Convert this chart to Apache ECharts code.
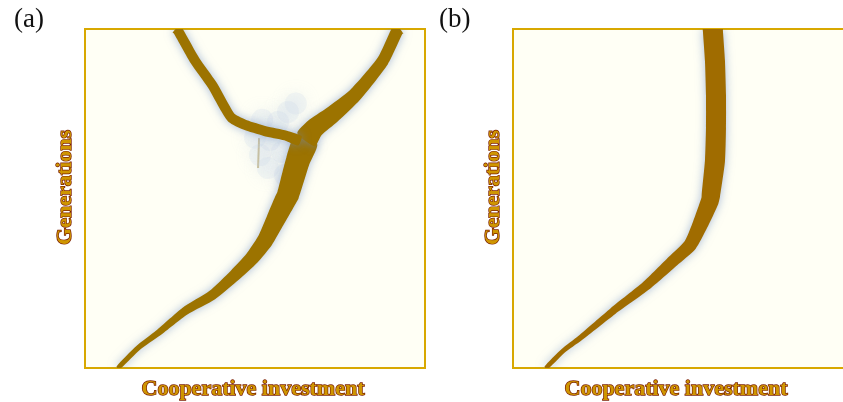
<!DOCTYPE html>
<html><head><meta charset="utf-8">
<script src="https://cdn.jsdelivr.net/npm/echarts@6/dist/echarts.min.js"></script>
<style>html,body{margin:0;padding:0;background:#fff}#c{width:843px;height:402px}</style>
</head><body><div id="c"></div>
<script>
// ---------- text ----------
const panelLabels = ['(a)', '(b)'];
const xAxisName = 'Cooperative investment';
const yAxisName = 'Generations';

// ---------- panel (a): branching ----------
// x = cooperative investment (0..1), y = generations (0..100, arbitrary units)
const stemA_x = [0.097, 0.156, 0.215, 0.294, 0.374, 0.441, 0.491, 0.529, 0.559, 0.588, 0.597, 0.626, 0.650];
const stemA_y = [0.0,   5.9,   10.3,  16.8,  21.5,  27.4,  32.4,  37.5,  43.4,  49.3,  51.0,  61.1,  67.3];
const rightA_x = [0.650, 0.676, 0.726, 0.794, 0.876, 0.918, 0.926];
const rightA_y = [67.3,  70.8,  74.6,  80.5,  90.6,  99.4,  100.0];
const leftA_x = [0.632, 0.590, 0.529, 0.471, 0.432, 0.412, 0.374, 0.324, 0.274, 0.268];
const leftA_y = [67.0,  68.6,  69.9,  71.7,  73.7,  76.7,  83.5,  90.6,  99.4,  100.0];
const traceA_x = [0.512, 0.509];
const traceA_y = [67.8,  59.0];
const cloudA_x = [0.521, 0.568, 0.597, 0.544, 0.579, 0.515, 0.588, 0.538, 0.500, 0.620];
const cloudA_y = [73.2,  72.6,  75.5,  67.3,  63.7,  62.8,  56.9,  59.0,  68.0,  78.0];

// ---------- panel (b): no branching ----------
const stemB_x = [0.097, 0.147, 0.197, 0.294, 0.391, 0.471, 0.521, 0.550, 0.579, 0.582, 0.594, 0.597, 0.597, 0.594, 0.588, 0.588];
const stemB_y = [0.0,   5.0,   8.8,   16.8,  24.2,  31.6,  36.3,  42.2,  49.3,  51.0,  61.1,  70.8,  80.5,  90.6,  99.4,  100.0];

const zip = (xs, ys) => xs.map((x, i) => [x, ys[i]]);

function ribbon(name, gi, xs, ys, widthFn, color) {
  const pts = zip(xs, ys);
  return {
    type: 'custom', name, xAxisIndex: gi, yAxisIndex: gi, clip: true, z: 3,
    data: pts,
    renderItem(params, api) {
      if (params.dataIndex !== 0) return null;
      const px = pts.map(p => api.coord(p));
      const left = [], right = [];
      for (let k = 0; k < px.length; k++) {
        const a = px[Math.max(0, k - 1)], b = px[Math.min(px.length - 1, k + 1)];
        let tx = b[0] - a[0], ty = b[1] - a[1];
        const L = Math.hypot(tx, ty) || 1; tx /= L; ty /= L;
        const w = widthFn(pts[k][1]) / 2;
        left.push([px[k][0] - ty * w, px[k][1] + tx * w]);
        right.push([px[k][0] + ty * w, px[k][1] - tx * w]);
      }
      return {
        type: 'polygon',
        shape: { points: left.concat(right.reverse()), smooth: 0.2 },
        style: { fill: color, shadowBlur: 10, shadowColor: 'rgba(110,140,195,0.6)' }
      };
    }
  };
}

const stemWidth = (maxW) => (y) => 4 + (maxW - 4) * Math.pow(Math.min(1, y / 55), 1.3);
const taperWidth = (y) => y < 67 ? 22 : Math.max(12, 22 - (y - 67) * 0.6);

const nameStyle = {
  fontFamily: 'Liberation Serif', fontWeight: 'bold', fontSize: 22,
  color: '#cf9600', textBorderColor: '#7a1c00', textBorderWidth: 1.4
};

function axesFor(gi, xPad, yPad) {
  return {
    x: {
      gridIndex: gi, type: 'value', min: 0, max: 1,
      axisLine: { show: false }, axisTick: { show: false }, axisLabel: { show: false }, splitLine: { show: false },
      name: xAxisName, nameLocation: 'middle', nameGap: 10,
      nameTextStyle: Object.assign({ padding: xPad }, nameStyle)
    },
    y: {
      gridIndex: gi, type: 'value', min: 0, max: 100,
      axisLine: { show: false }, axisTick: { show: false }, axisLabel: { show: false }, splitLine: { show: false },
      name: yAxisName, nameLocation: 'middle', nameGap: 9,
      nameTextStyle: Object.assign({ padding: yPad }, nameStyle)
    }
  };
}
const axA = axesFor(0, [0, 4, 0, 0], [0, 0, 0, 22]);
const axB = axesFor(1, [0, 14, 0, 0], [0, 0, 0, 22]);

const gridStyle = { show: true, backgroundColor: '#fffff5', borderColor: '#d8a800', borderWidth: 2, outerBoundsMode: 'none', containLabel: false };
const titleStyle = { fontFamily: 'Liberation Serif', fontWeight: 'normal', fontSize: 27, color: '#111' };

const chart = echarts.init(document.getElementById('c'), null, { renderer: 'canvas' });
chart.setOption({
  animation: false,
  backgroundColor: '#ffffff',
  title: [
    { text: panelLabels[0], left: 9, top: 1, textStyle: titleStyle },
    { text: panelLabels[1], left: 434, top: 1, textStyle: titleStyle }
  ],
  grid: [
    Object.assign({ left: 85, top: 29, width: 340, height: 339 }, gridStyle),
    Object.assign({ left: 513, top: 29, width: 340, height: 339 }, gridStyle)
  ],
  xAxis: [axA.x, axB.x],
  yAxis: [axA.y, axB.y],
  series: [
    {
      type: 'scatter', name: 'diffuse (a)', xAxisIndex: 0, yAxisIndex: 0, z: 2,
      data: zip(cloudA_x, cloudA_y), symbolSize: 22,
      itemStyle: { color: 'rgba(195,208,232,0.22)', shadowBlur: 16, shadowColor: 'rgba(180,198,230,0.9)' }
    },
    {
      type: 'line', name: 'trace (a)', xAxisIndex: 0, yAxisIndex: 0, z: 2, symbol: 'none',
      data: zip(traceA_x, traceA_y),
      lineStyle: { width: 2, color: 'rgba(160,125,30,0.5)' }
    },
    ribbon('stem (a)', 0, stemA_x, stemA_y, stemWidth(24), '#9c7300'),
    ribbon('right branch (a)', 0, rightA_x, rightA_y, taperWidth, '#9c7300'),
    ribbon('left branch (a)', 0, leftA_x, leftA_y, () => 10, '#9c7300'),
    ribbon('stem (b)', 1, stemB_x, stemB_y, stemWidth(20), '#a06c00')
  ]
});
</script></body></html>
